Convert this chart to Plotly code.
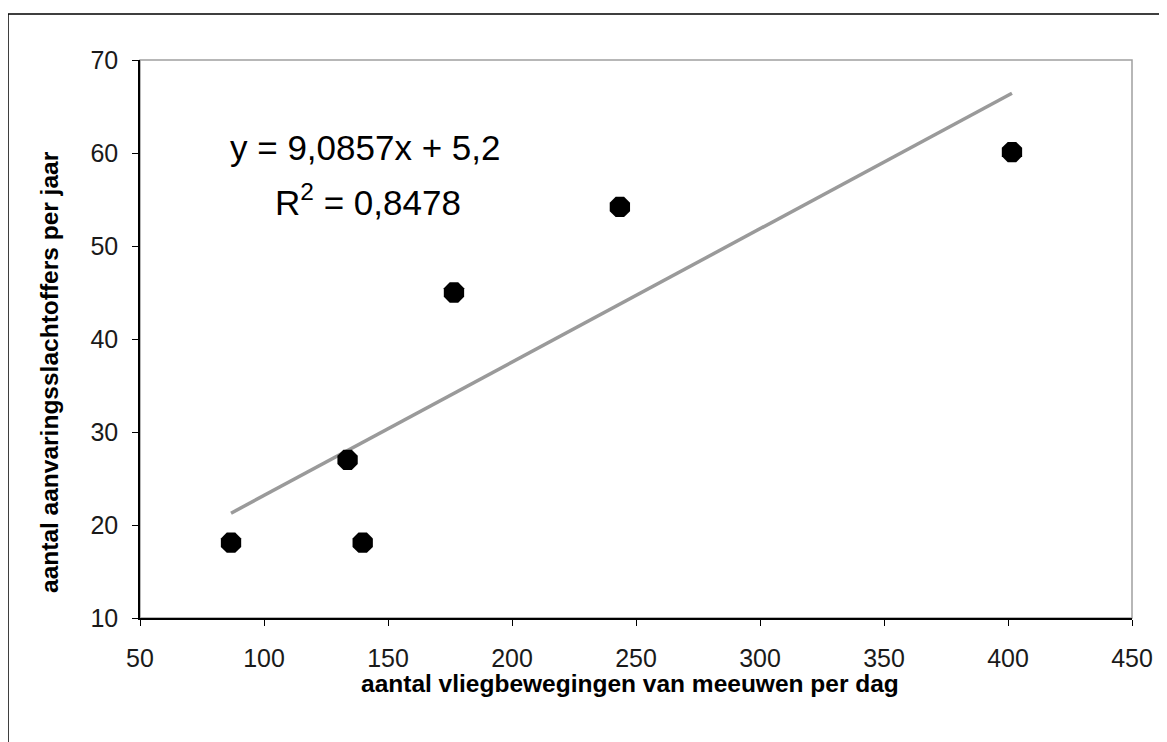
import numpy as np
import plotly.graph_objects as go

# Data
flight_movements = [86.7, 133.7, 139.8, 176.6, 243.5, 401.6]   # aantal vliegbewegingen per dag
collision_victims = [18.1, 27.0, 18.1, 45.0, 54.2, 60.1]       # aantal aanvaringsslachtoffers per jaar
x_ticks = [50, 100, 150, 200, 250, 300, 350, 400, 450]
y_ticks = [10, 20, 30, 40, 50, 60, 70]
equation_text = "y = 9,0857x + 5,2"
r2_text = "R<sup>2</sup> = 0,8478"

# Linear trendline derived from the data
slope, intercept = np.polyfit(flight_movements, collision_victims, 1)
trend_x = [min(flight_movements), max(flight_movements)]
trend_y = [slope * v + intercept for v in trend_x]

FONT = "Arial, 'Liberation Sans', sans-serif"

fig = go.Figure()
fig.add_trace(go.Scatter(x=trend_x, y=trend_y, mode="lines",
                         line=dict(color="#9a9a9a", width=3.5), hoverinfo="skip"))
fig.add_trace(go.Scatter(x=flight_movements, y=collision_victims, mode="markers",
                         marker=dict(symbol="octagon", size=22, color="black",
                                     line=dict(width=0))))

# page is offset by 8px (body margin), so compensate
OFF = 8
W, H = 1167, 742
PL, PR, PT, PB = 140, 1132, 60, 618   # plot area in reference pixels
L = PL - OFF
T = PT - OFF
R = W - (PR - OFF)
B = H - (PB - OFF)
pw, ph = PR - PL, PB - PT

def px_x(p):
    return (p - PL) / pw

def px_y(p):
    return (PB - p) / ph

fig.update_layout(
    width=W, height=H,
    margin=dict(l=L, r=R, t=T, b=B),
    paper_bgcolor="white", plot_bgcolor="white",
    showlegend=False,
    font=dict(family=FONT, color="black"),
    xaxis=dict(range=[50, 450], tickvals=x_ticks, ticks="outside", ticklen=6,
               tickcolor="black", tickwidth=1, showline=True, linecolor="black",
               linewidth=1.5, showgrid=False, zeroline=False,
               tickfont=dict(size=25, color="#1a1a1a"), ticklabelstandoff=11),
    yaxis=dict(range=[10, 70], tickvals=y_ticks, ticks="outside", ticklen=6,
               tickcolor="black", tickwidth=1, showline=True, linecolor="black",
               linewidth=1.5, showgrid=False, zeroline=False,
               tickfont=dict(size=25, color="#1a1a1a"), ticklabelstandoff=9),
    shapes=[
        dict(type="rect", xref="paper", yref="paper", x0=0, x1=1, y0=0, y1=1,
             line=dict(color="#a0a0a0", width=1.5), layer="below"),
        dict(type="rect", xref="paper", yref="paper",
             x0=px_x(8), x1=px_x(1190), y0=px_y(770), y1=px_y(14),
             line=dict(color="black", width=1.5), layer="below"),
    ],
    annotations=[
        dict(text=equation_text, xref="paper", yref="paper", x=px_x(365), y=px_y(147),
             showarrow=False, font=dict(size=35, family=FONT, color="black"),
             xanchor="center", yanchor="middle"),
        dict(text=r2_text, xref="paper", yref="paper", x=px_x(368), y=px_y(200),
             showarrow=False, font=dict(size=35, family=FONT, color="black"),
             xanchor="center", yanchor="middle"),
        dict(text="<b>aantal vliegbewegingen van meeuwen per dag</b>", xref="paper", yref="paper",
             x=px_x(630), y=px_y(683), showarrow=False,
             font=dict(size=24.5, family=FONT, color="black"),
             xanchor="center", yanchor="middle"),
        dict(text="<b>aantal aanvaringsslachtoffers per jaar</b>", xref="paper", yref="paper",
             x=px_x(50), y=px_y(372), showarrow=False, textangle=-90,
             font=dict(size=24.5, family=FONT, color="black"),
             xanchor="center", yanchor="middle"),
    ],
)

fig.write_html("out.html")
